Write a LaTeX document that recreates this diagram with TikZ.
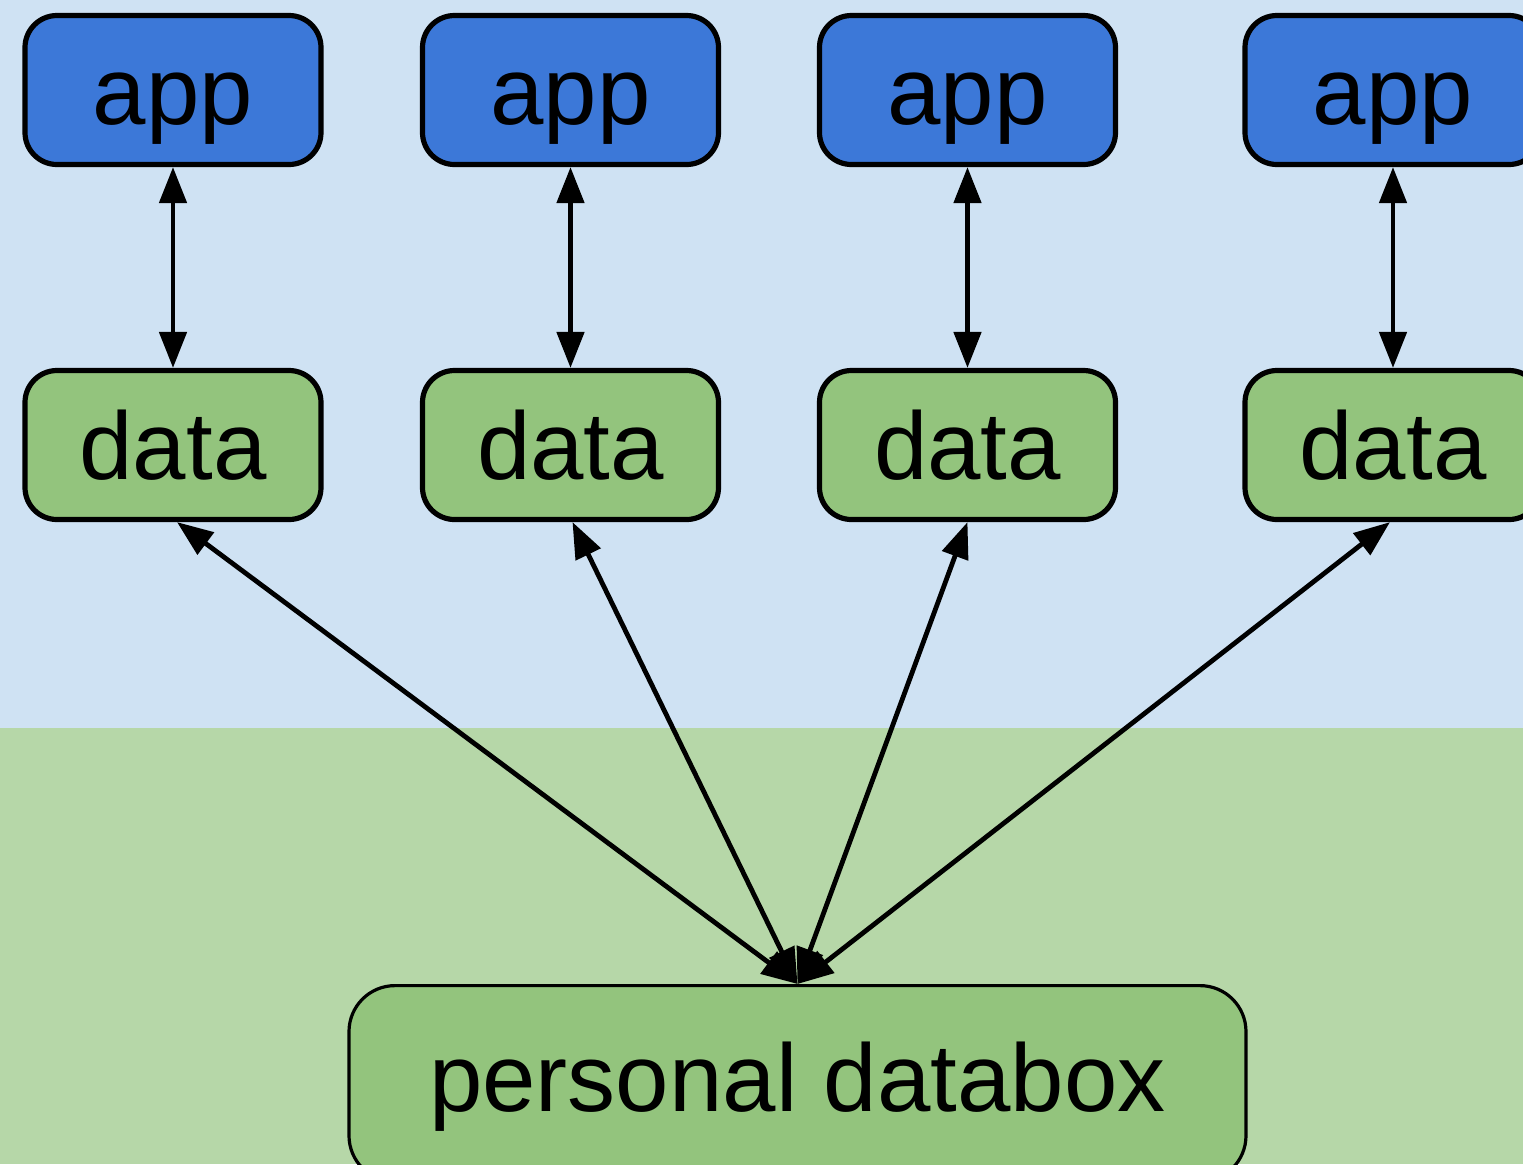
\documentclass[tikz,border=0pt]{standalone}
\usepackage{fontspec}
\setmainfont{Liberation Sans}
\usetikzlibrary{arrows.meta}
\definecolor{bgblue}{HTML}{CFE2F3}
\definecolor{bggreen}{HTML}{B6D7A8}
\definecolor{appblue}{HTML}{3C78D8}
\definecolor{datagreen}{HTML}{93C47D}
\tikzset{
  box/.style={draw=black, line width=2.6pt, rounded corners=16pt,
    minimum width=148pt, minimum height=74.5pt, inner sep=0pt,
    font=\fontsize{48}{56}\selectfont, text height=34.4pt, text depth=0pt},
  appbox/.style={box, fill=appblue},
  databox/.style={box, fill=datagreen},
  hubbox/.style={box, fill=datagreen, line width=1.6pt, rounded corners=23pt,
    minimum width=448.5pt, minimum height=0pt, text height=63pt, text depth=35pt},
  link/.style={line width=2.4pt, {Triangle[length=18pt,width=13.5pt]}-{Triangle[length=18pt,width=13.5pt]}}
}
\begin{document}
\begin{tikzpicture}[x=0.5pt,y=-0.5pt]
\useasboundingbox (0,0) rectangle (1523,1164);
\clip (0,0) rectangle (1523,1164);
\fill[bgblue] (0,0) rectangle (1523,728);
\fill[bggreen] (0,728) rectangle (1523,1164);

\node[appbox] (a1) at (173,90) {app};
\node[appbox] (a2) at (570.5,90) {app};
\node[appbox] (a3) at (967.5,90) {app};
\node[appbox] (a4) at (1393,90) {app};

\node[databox] (d1) at (173,445) {data};
\node[databox] (d2) at (570.5,445) {data};
\node[databox] (d3) at (967.5,445) {data};
\node[databox] (d4) at (1393,445) {data};

\node[hubbox, anchor=north] (pd) at (797.5,984) {personal databox};

\draw[link] (a1) -- (d1);
\draw[link] (a2) -- (d2);
\draw[link] (a3) -- (d3);
\draw[link] (a4) -- (d4);

\coordinate (hub) at (pd.north);
\draw[link] ([xshift=2pt]d1.south) -- (hub);
\draw[link] ([xshift=1pt]d2.south) -- (hub);
\draw[link] (d3.south) -- (hub);
\draw[link] ([xshift=-1.5pt]d4.south) -- (hub);
\end{tikzpicture}
\end{document}
